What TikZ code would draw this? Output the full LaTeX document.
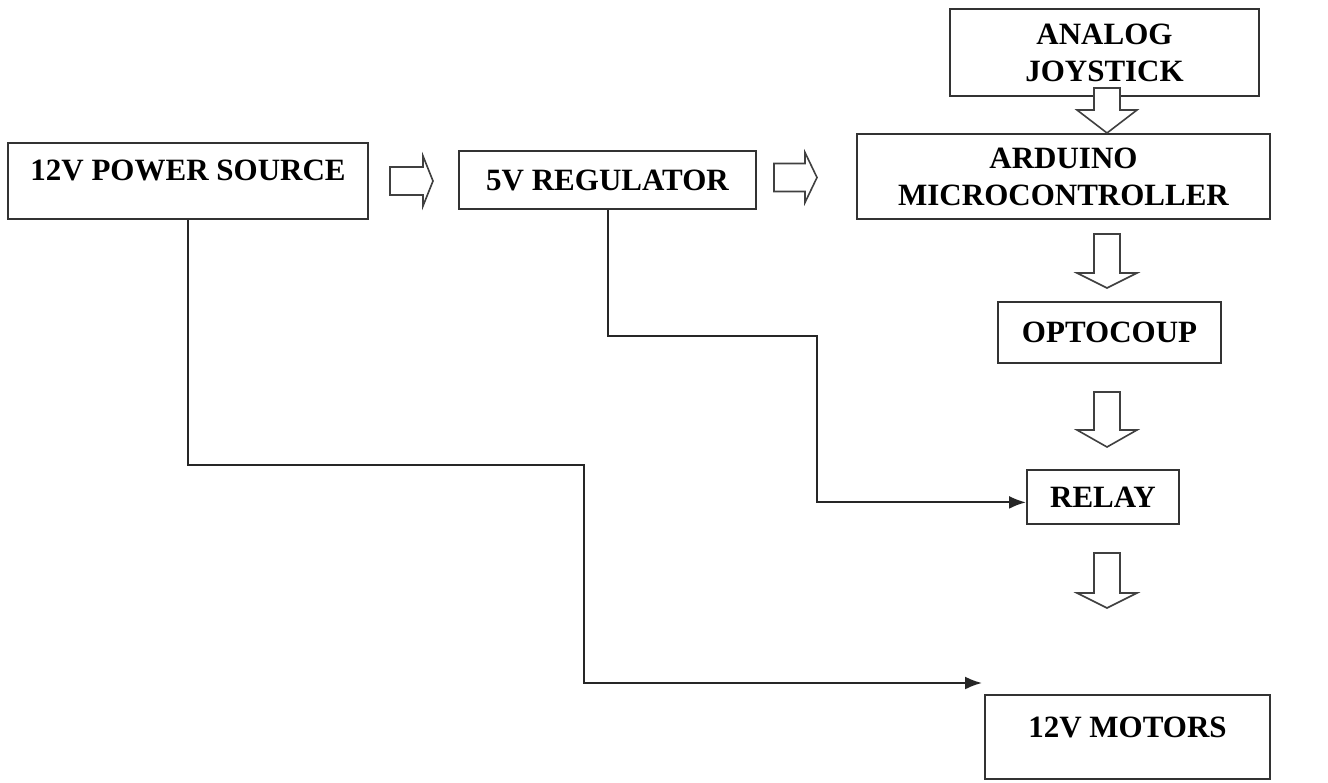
\documentclass[tikz,border=0pt]{standalone}
\usepackage{fontspec}
\setmainfont{Liberation Serif}
\usetikzlibrary{positioning,arrows.meta}

\begin{document}
\begin{tikzpicture}[x=1pt, y=-1pt, block/.style={rectangle,draw=black!80,line width=2pt,align=center,inner sep=0pt,font=\fontsize{31}{37}\selectfont\bfseries}, highbox/.style={block,text height=24pt,text depth=24pt}, links/.style={-{Latex[length=17pt,width=13pt]}, line width=2pt, black!85}, hollow/.style={draw=black!75,line width=1.6pt,fill=white,line join=miter}]

	\useasboundingbox (0,0) rectangle (1328,783);

	\node[highbox, minimum width=360, minimum height=76] at (188,181) (psource) {12V POWER SOURCE};
	\node[block, minimum width=297, minimum height=58] at (607.5,180) (regulator) {5V REGULATOR};
	\node[block, minimum width=309, minimum height=87] at (1104.5,53) (joystick) {ANALOG\\JOYSTICK};
	\node[block, minimum width=413, minimum height=85] at (1063.5,176.5) (arduino) {ARDUINO\\MICROCONTROLLER};
	\node[block, minimum width=223, minimum height=61] at (1109.5,332.5) (optocoup) {OPTOCOUP};
	\node[block, minimum width=152, minimum height=54] at (1103,497) (relay) {RELAY};
	\node[highbox, minimum width=285, minimum height=84] at (1127.5,737) (motors) {12V MOTORS};

	\coordinate (powerbend) at (584,465);
	\coordinate (motorsin) at (982,683);
	\coordinate (regbend) at (817,336);

	% hollow arrows
	\foreach \xa/\xb/\xc/\yc in {390/423/433/181, 774/805/817/177.5}
		\draw[hollow] (\xa,\yc-14) -- (\xb,\yc-14) -- (\xb,\yc-25) -- (\xc,\yc) -- (\xb,\yc+25) -- (\xb,\yc+14) -- (\xa,\yc+14) -- cycle;

	\foreach \ya/\yb/\yc in {88/110/133, 234/273/288, 392/430/447, 553/593/608}
		\draw[hollow] (1094,\ya) -- (1094,\yb) -- (1077,\yb) -- (1107,\yc) -- (1137,\yb) -- (1120,\yb) -- (1120,\ya) -- cycle;

	\draw[links] (psource.south) |- (powerbend) |- (motorsin);
	\draw[links] (regulator.south) |- (regbend) |- (relay.184);
\end{tikzpicture}
\end{document}
